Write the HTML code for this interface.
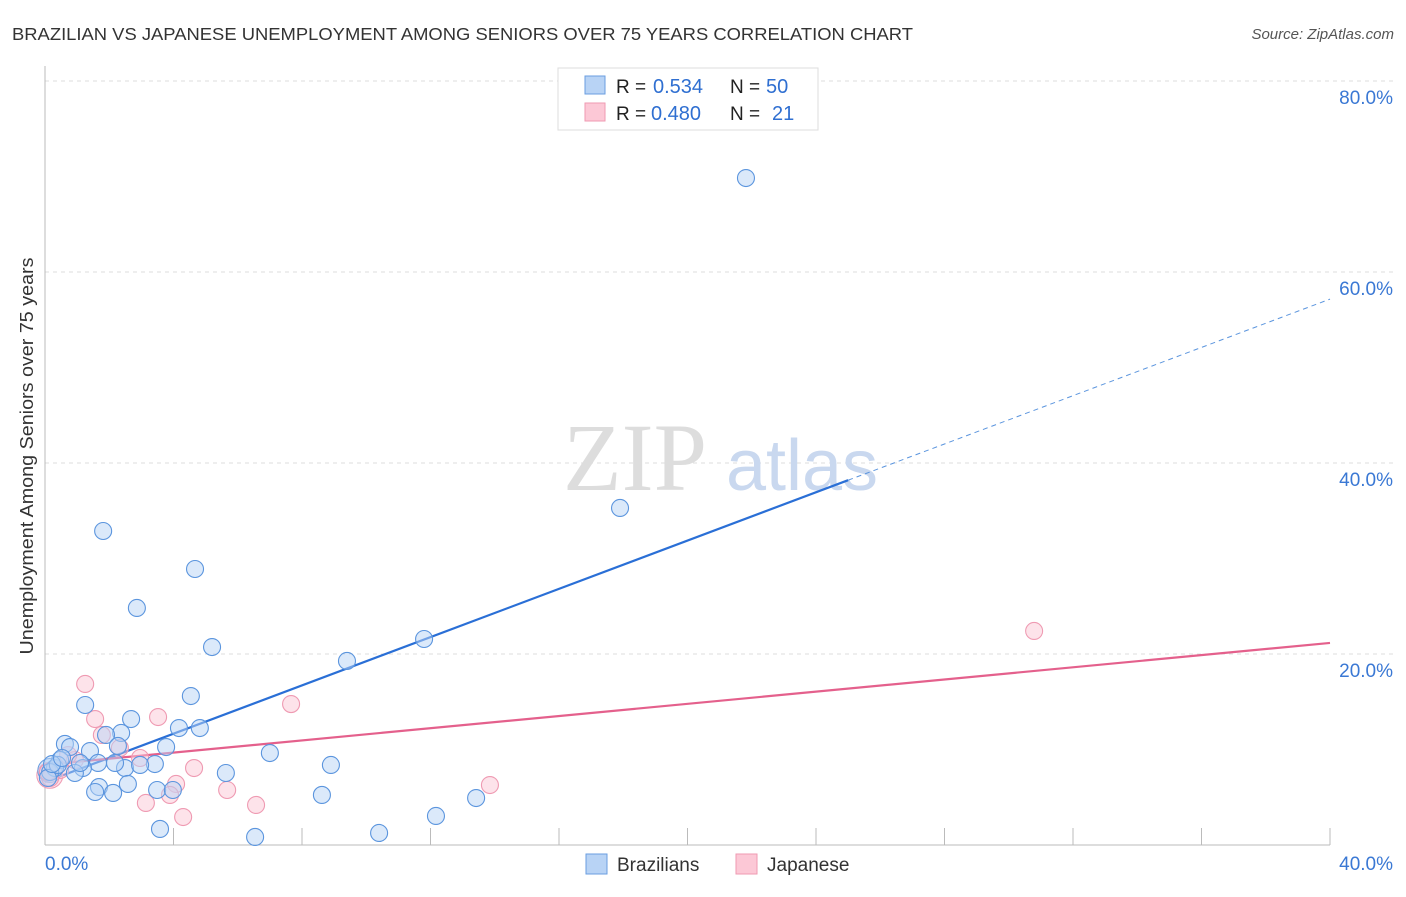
<!DOCTYPE html>
<html><head><meta charset="utf-8"><style>
body{margin:0;background:#fff;font-family:"Liberation Sans",sans-serif}
</style></head><body>
<svg width="1406" height="892" font-family="Liberation Sans, sans-serif">
<text x="12" y="40" font-size="17.5" fill="#333" textLength="901" lengthAdjust="spacingAndGlyphs">BRAZILIAN VS JAPANESE UNEMPLOYMENT AMONG SENIORS OVER 75 YEARS CORRELATION CHART</text>
<text x="1394" y="39" font-size="15" fill="#555" font-style="italic" text-anchor="end">Source: ZipAtlas.com</text>
<text x="33" y="456" font-size="18" fill="#333" text-anchor="middle" textLength="397" lengthAdjust="spacingAndGlyphs" transform="rotate(-90 33 456)">Unemployment Among Seniors over 75 years</text>
<g id="grid"></g>
<g id="ticks"></g>
<text x="635" y="490" font-size="96" fill="#ddd" style="font-family:'Liberation Serif',serif" text-anchor="middle">ZIP</text>
<text x="802" y="490" font-size="72" fill="#c9d8ef" text-anchor="middle">atlas</text>
<g id="lines"></g>
<g id="pts"></g>
<g>
<rect x="558" y="68" width="260" height="62" fill="#fff" stroke="#ddd"/>
<rect x="585" y="76" width="20" height="18" fill="#b8d3f5" stroke="#6a9ee0"/>
<rect x="585" y="103" width="20" height="18" fill="#fcc8d6" stroke="#ef9ab2"/>
<text x="616" y="93" font-size="19" fill="#222">R =</text><text x="653" y="93" font-size="20" fill="#2f6fd1">0.534</text>
<text x="730" y="93" font-size="19" fill="#222">N =</text><text x="766" y="93" font-size="20" fill="#2f6fd1">50</text>
<text x="616" y="120" font-size="19" fill="#222">R =</text><text x="651" y="120" font-size="20" fill="#2f6fd1">0.480</text>
<text x="730" y="120" font-size="19" fill="#222">N =</text><text x="772" y="120" font-size="20" fill="#2f6fd1">21</text>
</g>
<g>
<rect x="586" y="854" width="21" height="20" fill="#b8d3f5" stroke="#6a9ee0"/>
<text x="617" y="871" font-size="19" fill="#333">Brazilians</text>
<rect x="736" y="854" width="21" height="20" fill="#fcc8d6" stroke="#ef9ab2"/>
<text x="767" y="871" font-size="19" fill="#333">Japanese</text>
</g>
</svg>
<script>
const yTicks=[20,40,60,80];
const xTickLabels=["0.0%","40.0%"];
const braX=[21.82,17.90,1.81,4.67,2.86,5.20,11.80,9.40,4.54,1.25,2.68,4.17,4.82,2.37,3.77,1.90,0.62,0.78,1.40,2.27,7.00,3.42,8.90,5.63,2.49,2.18,1.65,1.18,0.93,0.47,0.31,0.16,0.09,0.40,2.58,1.68,1.56,2.12,3.49,3.98,8.62,13.42,12.17,3.58,6.54,10.40,0.22,0.53,1.09,2.96];
const braY=[69.84,35.29,32.88,28.90,24.82,20.73,21.57,19.27,15.60,14.66,13.19,12.25,12.25,11.73,10.26,11.52,10.58,10.26,9.84,10.37,9.63,8.48,8.38,7.54,8.06,8.59,8.59,8.06,7.54,8.90,8.06,7.64,7.02,8.38,6.39,6.07,5.55,5.45,5.76,5.76,5.24,4.92,3.04,1.68,0.84,1.26,8.48,9.11,8.59,8.38];
const japX=[1.25,1.56,3.52,7.66,30.79,1.77,2.33,2.96,4.64,4.08,5.67,6.57,3.14,3.89,4.30,13.85,0.93,0.47,0.16,0.09,0.72];
const japY=[16.86,13.19,13.40,14.76,22.41,11.52,10.16,9.11,8.06,6.39,5.76,4.19,4.40,5.24,2.93,6.28,8.90,7.85,7.02,7.64,9.42];
const braFit=[6.6,1.264], japFit=[8.4,0.319];
const X=v=>45+v*32.125, Y=v=>845-v*9.55;
const NS="http://www.w3.org/2000/svg";
function mk(t,a,p){const e=document.createElementNS(NS,t);for(const k in a)e.setAttribute(k,a[k]);document.getElementById(p).appendChild(e);return e;}
yTicks.forEach(t=>{
 const l=mk('line',{x1:45,x2:1393,y1:Y(t),y2:Y(t),stroke:'#ddd','stroke-dasharray':'4,4'},'grid');
 
 
 const tx=mk('text',{x:1393,y:Y(t)+23,'font-size':19,fill:'#3a78d4','text-anchor':'end'},'ticks');
 tx.textContent=t.toFixed(1)+'%';
 
 
});
mk('line',{x1:45,x2:45,y1:66,y2:845,stroke:'#bbb'},'grid');
mk('line',{x1:45,x2:1330,y1:845,y2:845,stroke:'#bbb'},'grid');
for(let i=1;i<=10;i++){mk('line',{x1:X(i*4),x2:X(i*4),y1:828,y2:845,stroke:'#bbb'},'grid');}
[[0,'start'],[40,'end']].forEach((d,i)=>{const tx=mk('text',{x:i?1393:45,y:870,'font-size':19,fill:'#3a78d4','text-anchor':d[1]},'ticks');tx.textContent=xTickLabels[i];
 
 });
function pts(xs,ys,fill,stroke,name){xs.forEach((x,i)=>{const c=mk('circle',{cx:X(x),cy:Y(ys[i]),r:8.5,fill:fill,'fill-opacity':0.5,stroke:stroke,'stroke-width':1.1},'pts');
 
 });}
mk('circle',{cx:X(0.15),cy:Y(7.3),r:13,fill:'#fcc8d6','fill-opacity':0.5,stroke:'#ef9ab2'},'pts');
mk('circle',{cx:X(0.15),cy:Y(7.8),r:12,fill:'#b8d3f5','fill-opacity':0.5,stroke:'#6a9ee0'},'pts');
pts(japX,japY,'#fcc8d6','#ef9ab2','japanese-point');
pts(braX,braY,'#b8d3f5','#5b95de','brazilian-point');
const b1=mk('line',{x1:X(0),y1:Y(braFit[0]),x2:X(25),y2:Y(braFit[0]+25*braFit[1]),stroke:'#2a6fd6','stroke-width':2.2},'lines');


const b2=mk('line',{x1:X(25),y1:Y(braFit[0]+25*braFit[1]),x2:X(40),y2:Y(braFit[0]+40*braFit[1]),stroke:'#5b95de','stroke-width':1,'stroke-dasharray':'5,4'},'lines');


const j1=mk('line',{x1:X(0),y1:Y(japFit[0]),x2:X(40),y2:Y(japFit[0]+40*japFit[1]),stroke:'#e4608c','stroke-width':2.2},'lines');


</script>
</body></html>
